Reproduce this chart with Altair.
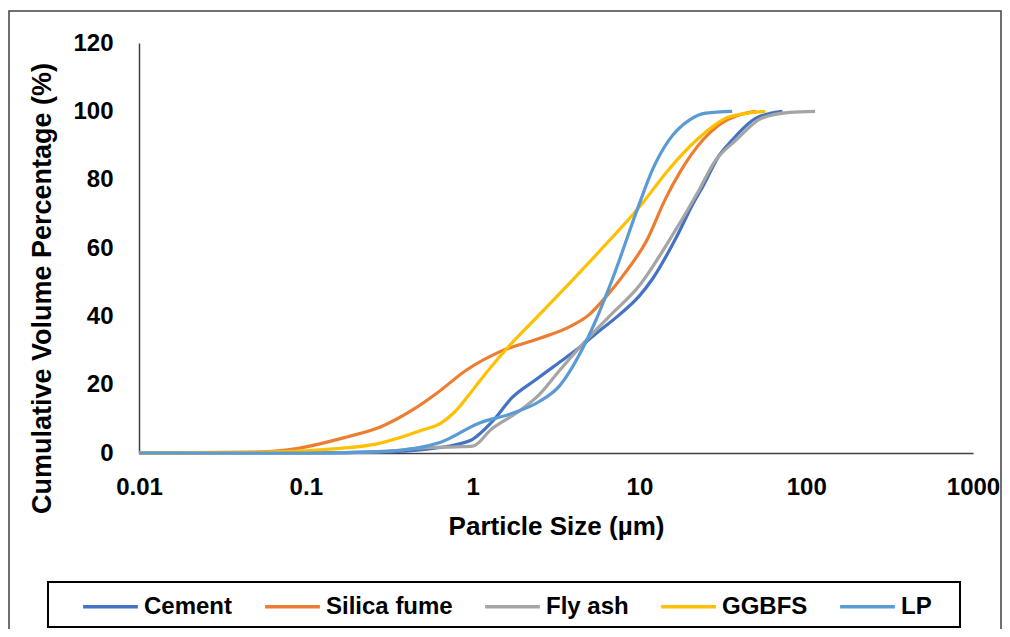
import altair as alt
import pandas as pd

series = ["Cement", "Silica fume", "Fly ash", "GGBFS", "LP"]
colors = ["#4472C4", "#ED7D31", "#A5A5A5", "#FFC000", "#5B9BD5"]

cement_x = [0.01, 0.1, 0.3, 0.5, 0.8, 1.0, 1.3, 1.74, 2.4, 3.2, 4.4, 5.5, 7.6, 10, 12, 16.6, 21, 24, 30, 36, 50, 72]
cement_y = [0, 0, 0.3, 1, 2.5, 4, 9, 16.4, 21.5, 26, 31, 35, 40.5, 46, 51, 63, 73, 78, 87, 91.6, 98, 100]

silica_x = [0.01, 0.05, 0.078, 0.176, 0.28, 0.436, 0.61, 0.92, 1.45, 2.5, 3.8, 5, 6.3, 8, 11, 14.4, 17.4, 24, 30, 40, 50]
silica_y = [0, 0.3, 0.9, 4.7, 7.6, 12.6, 17.5, 24.3, 29.6, 33.5, 36.9, 40.5, 45.7, 52, 62, 74.6, 82, 91.6, 96, 99, 100]

flyash_x = [0.01, 0.1, 0.3, 0.5, 0.8, 1.0, 1.3, 1.83, 2.5, 3.3, 4.4, 6.6, 10, 15, 22.8, 28, 38, 54, 80, 113]
flyash_y = [0, 0, 0.5, 1.5, 1.8, 2, 7, 11.7, 17, 24, 31, 40, 49, 62, 77, 85, 91.6, 98, 99.7, 100]

ggbfs_x = [0.01, 0.05, 0.12, 0.28, 0.5, 0.65, 0.78, 0.95, 1.1, 1.6, 2.4, 3.97, 6, 10, 15, 22, 33, 45, 57]
ggbfs_y = [0, 0.2, 0.9, 2.9, 6.7, 8.8, 12, 17, 21, 30.5, 39.5, 50.6, 60, 72, 83, 91.6, 98, 99.5, 100]

lp_x = [0.01, 0.1, 0.3, 0.63, 1.1, 1.7, 2.5, 3.3, 4.5, 5.5, 6.9, 10, 12, 15, 20, 25, 36]
lp_y = [0, 0, 0.5, 3, 8.8, 11.5, 15, 19.5, 30, 39, 51, 73, 83, 91.5, 97.5, 99.5, 100]

x_ticks = [0.01, 0.1, 1, 10, 100, 1000]
y_ticks = [0, 20, 40, 60, 80, 100, 120]

rows = []
for name, xs, ys in [("Cement", cement_x, cement_y), ("Silica fume", silica_x, silica_y),
                     ("Fly ash", flyash_x, flyash_y), ("GGBFS", ggbfs_x, ggbfs_y), ("LP", lp_x, lp_y)]:
    for i, (a, b) in enumerate(zip(xs, ys)):
        rows.append({"Material": name, "size": a, "pct": b, "ord": i})
df = pd.DataFrame(rows)

FONT = "Liberation Sans"

lines = alt.Chart(df).mark_line(interpolate="monotone", strokeWidth=3.2).encode(
    x=alt.X("size:Q",
            scale=alt.Scale(type="log", domain=[0.01, 1000]),
            axis=alt.Axis(values=x_ticks, format="~g", title="Particle Size (µm)",
                          grid=False, ticks=False, domainColor="#404040", domainWidth=1.5,
                          labelFont=FONT, labelFontSize=24, labelFontWeight="bold", labelColor="#000000",
                          labelPadding=22, labelFlush=False,
                          titleFont=FONT, titleFontSize=26, titleFontWeight="bold", titleColor="#000000",
                          titlePadding=14)),
    y=alt.Y("pct:Q",
            scale=alt.Scale(domain=[0, 120]),
            axis=alt.Axis(values=y_ticks, title="Cumulative Volume Percentage (%)",
                          grid=False, ticks=False, domainColor="#404040", domainWidth=1.5,
                          labelFont=FONT, labelFontSize=24, labelFontWeight="bold", labelColor="#000000",
                          labelPadding=26,
                          titleFont=FONT, titleFontSize=27, titleFontWeight="bold", titleColor="#000000",
                          titlePadding=16, titleY=245)),
    color=alt.Color("Material:N", scale=alt.Scale(domain=series, range=colors),
                    legend=alt.Legend(orient="none", legendX=-58, legendY=534, direction="horizontal",
                                      title=None, symbolType="stroke", symbolSize=3000,
                                      symbolStrokeWidth=3.5, labelFont=FONT, labelFontSize=24,
                                      labelFontWeight="bold", labelColor="#000000",
                                      columnPadding=25, labelOffset=4, padding=0)),
    order="ord:Q",
)

box_df = pd.DataFrame({"k": [0]})
frame = alt.Chart(box_df).mark_rect(filled=False, stroke="#404040", strokeWidth=1.5).encode(
    x=alt.value(-130), x2=alt.value(862), y=alt.value(-32), y2=alt.value(600))
legend_box = alt.Chart(box_df).mark_rect(filled=False, stroke="#000000", strokeWidth=2).encode(
    x=alt.value(-91), x2=alt.value(821), y=alt.value(539), y2=alt.value(584))

chart = alt.layer(frame, legend_box, lines).properties(
    width=834, height=410,
    autosize=alt.AutoSizeParams(type="none"),
    padding={"left": 131, "top": 35, "right": 29, "bottom": 176},
).configure_view(stroke=None)

chart.save("out.html", embed_options={"renderer": "svg", "actions": False})
